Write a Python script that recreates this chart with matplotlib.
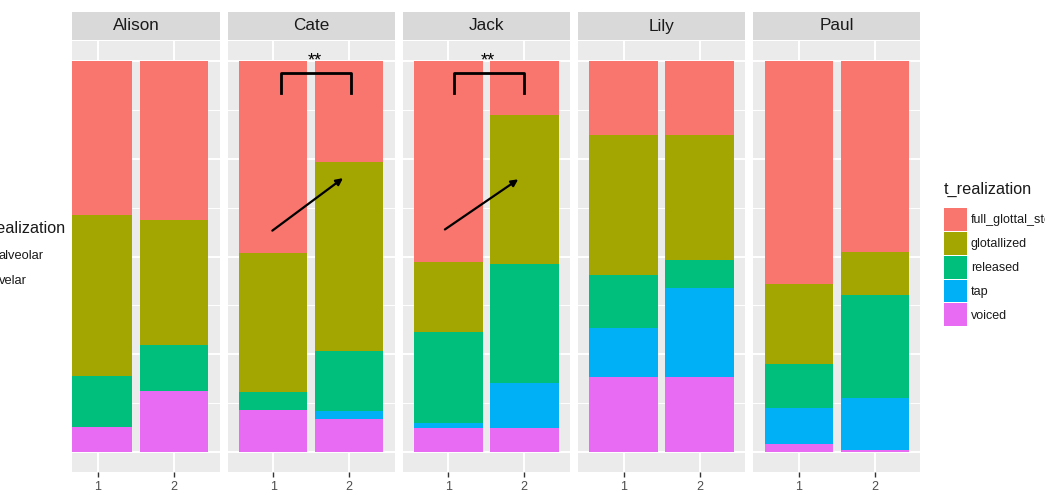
import matplotlib
matplotlib.use('Agg')
import matplotlib.pyplot as plt
from matplotlib.patches import Patch
import numpy as np

plt.rcParams['font.family'] = ['Liberation Sans', 'DejaVu Sans']

# proportion of each /t/ realization per speaker and recording (1, 2)
speakers = ['Alison', 'Cate', 'Jack', 'Lily', 'Paul']
sessions = ['1', '2']
full_glottal_stop = [[0.395, 0.406], [0.491, 0.259], [0.513, 0.138], [0.191, 0.191], [0.570, 0.489]]
glotallized = [[0.409, 0.321], [0.355, 0.481], [0.180, 0.382], [0.357, 0.317], [0.204, 0.108]]
released = [[0.131, 0.115], [0.045, 0.155], [0.231, 0.303], [0.134, 0.072], [0.112, 0.263]]
tap = [[0.000, 0.000], [0.000, 0.021], [0.013, 0.114], [0.126, 0.228], [0.092, 0.135]]
voiced = [[0.065, 0.158], [0.109, 0.084], [0.063, 0.063], [0.192, 0.192], [0.022, 0.005]]

levels = ['full_glottal_stop', 'glotallized', 'released', 'tap', 'voiced']
series = [full_glottal_stop, glotallized, released, tap, voiced]
colors = ['#F8766D', '#A3A500', '#00BF7D', '#00B0F6', '#E76BF3']

# significance markers drawn on two of the facets
brackets = {'Cate': (1.105, 2.02), 'Jack': (1.07, 2.0)}
arrows = {'Cate': ((0.99, 0.566), (1.92, 0.700)), 'Jack': ((0.955, 0.569), (1.92, 0.697))}

W, H = 1045, 495
fig = plt.figure(figsize=(W / 100, H / 100), dpi=100)


def box(x0, x1, y0, y1):
    return [x0 / W, 1 - y1 / H, (x1 - x0) / W, (y1 - y0) / H]


unit = 76.0
panel_w = 2.2 * unit
step = panel_w + 8
first_left = 52.3
clip_left = 72

for i, name in enumerate(speakers):
    left = first_left + i * step
    right = left + panel_w
    xmin = 0.4
    if left < clip_left:
        xmin = 0.4 + (clip_left - left) / unit
        left = clip_left

    ax = fig.add_axes(box(left, right, 41, 472))
    ax.set_facecolor('#EBEBEB')
    ax.set_xlim(xmin, 2.6)
    ax.set_ylim(-0.05, 1.05)
    for sp in ax.spines.values():
        sp.set_visible(False)

    for y in np.arange(0, 1.01, 0.125):
        major = abs(y * 4 - round(y * 4)) < 1e-6
        ax.axhline(y, color='white', lw=1.4 if major else 0.7, zorder=0)
    for x in [1, 2]:
        ax.axvline(x, color='white', lw=1.4, zorder=0)

    x = np.array([1, 2])
    bottom = np.zeros(2)
    for vals, c in zip(series[::-1], colors[::-1]):
        v = np.array(vals[i])
        ax.bar(x, v, width=0.9, bottom=bottom, color=c, zorder=2)
        bottom += v

    ax.set_xticks([1, 2])
    ax.set_xticklabels(sessions, fontsize=9, color='#4D4D4D')
    ax.tick_params(axis='x', length=3.5, width=1, color='#333333', pad=3)
    ax.set_yticks([])

    if name in brackets:
        bx0, bx1 = brackets[name]
        ax.plot([bx0, bx0, bx1, bx1], [0.918, 0.968, 0.968, 0.918], color='black',
                lw=2, solid_joinstyle='round', zorder=5)
        ax.text((bx0 + bx1) / 2 - 0.02, 0.998, '**', ha='center', va='center',
                fontsize=13, color='black', zorder=5)
        (sx, sy), (ex, ey) = arrows[name]
        ax.annotate('', xy=(ex, ey), xytext=(sx, sy),
                    arrowprops=dict(arrowstyle='-|>', color='black', lw=1.6,
                                    mutation_scale=10, shrinkA=0, shrinkB=0),
                    zorder=5)

    strip = fig.add_axes(box(left, right, 12, 40))
    strip.set_facecolor('#D9D9D9')
    strip.set_xticks([])
    strip.set_yticks([])
    for sp in strip.spines.values():
        sp.set_visible(False)
    cx = (first_left + i * step + panel_w / 2 - left) / (right - left)
    strip.text(cx, 0.5, name, transform=strip.transAxes, ha='center', va='center',
               fontsize=12.3, color='#1A1A1A')

# legend on the right
handles = [Patch(facecolor=c, edgecolor='none') for c in colors]
leg = fig.legend(handles, levels, loc='upper left', bbox_to_anchor=(944 / W, 1 - 182 / H),
                 frameon=False, fontsize=9, title='t_realization', title_fontsize=11.7,
                 handlelength=1.84, handleheight=2.43, labelspacing=0.08,
                 handletextpad=0.3, borderpad=0, borderaxespad=0)
leg._legend_box.align = 'left'
leg._legend_box.sep = 8
for t in leg.get_texts():
    t.set_color('#1A1A1A')
leg.get_title().set_color('#1A1A1A')

# fragment of a neighbouring legend on the left edge
fig.text(66 / W, 1 - 228 / H, 't_realization', ha='right', va='center',
         fontsize=11.7, color='#1A1A1A')
fig.text(-1.5 / W, 1 - 256 / H, 'alveolar', ha='left', va='center',
         fontsize=9.3, color='#1A1A1A')
fig.text(-1.5 / W, 1 - 281 / H, 'velar', ha='left', va='center',
         fontsize=9.3, color='#1A1A1A')

fig.savefig('out.png', dpi=100)
